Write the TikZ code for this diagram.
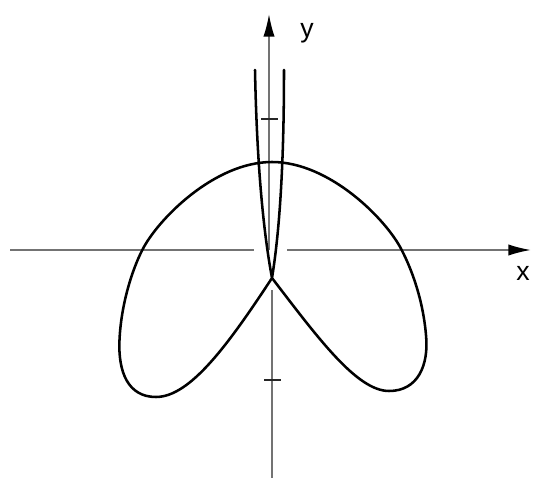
\documentclass[tikz,border=0pt]{standalone}
\usepackage{fontspec}
\setmainfont{Liberation Sans}
\usetikzlibrary{arrows.meta}
\begin{document}
\begin{tikzpicture}[x=0.75pt,y=-0.75pt,
  axis/.style={draw=black!55,line width=1.3pt},
  axisarrow/.style={axis,-{Latex[length=17pt,width=8.5pt,color=black,fill=black]}},
  tick/.style={draw=black!85,line width=1.3pt},
  curve/.style={draw=black,line width=1.9pt,line join=round,line cap=round},
  lbl/.style={font=\fontsize{20}{24}\selectfont,inner sep=0pt}]
\useasboundingbox (0,0) rectangle (537,481);
% axes
\coordinate (xl) at (10,250);
\coordinate (xg1) at (254,250);
\coordinate (xg2) at (287,250);
\coordinate (xr) at (531,250);
\coordinate (yb) at (272,478);
\coordinate (yg1) at (272,290);
\coordinate (yg2) at (269,250);
\coordinate (yt) at (269,14);
\draw[axis] (xl) -- (xg1);
\draw[axisarrow] (xg2) -- (xr);
\draw[axis] (yb) -- (yg1);
\draw[axisarrow] (yg2) -- (yt);
% ticks
\coordinate (t1a) at (261,119);
\coordinate (t1b) at (278,119);
\coordinate (t2a) at (264,380);
\coordinate (t2b) at (281,380);
\draw[tick] (t1a) -- (t1b);
\draw[tick] (t2a) -- (t2b);
% labels
\node[lbl] (ylab) at (307,33) {y};
\node[lbl] (xlab) at (523,273) {x};
% curve
\coordinate (bl) at (255,70);
\coordinate (br) at (284,70);
\coordinate (nd) at (272,278);
\coordinate (bot1) at (389,391);
\coordinate (rt) at (426,335);
\coordinate (cx1) at (401.7,250);
\coordinate (top) at (272,162);
\coordinate (cx2) at (142.3,250);
\coordinate (lt) at (119.5,340);
\coordinate (bot2) at (156,397);
\draw[curve] (bl) .. controls (257,170) and (264,235) .. (nd)
  .. controls (318,338) and (357,391) .. (bot1)
  .. controls (418,391) and (429,365) .. (rt)
  .. controls (423,300) and (412,270) .. (cx1)
  .. controls (386.7,220) and (330,162) .. (top)
  .. controls (214,162) and (157.3,220) .. (cx2)
  .. controls (132,270) and (121,305) .. (lt)
  .. controls (118,372) and (128,397) .. (bot2)
  .. controls (190,397) and (228,345) .. (nd)
  .. controls (279,235) and (284,170) .. (br);
\end{tikzpicture}
\end{document}
